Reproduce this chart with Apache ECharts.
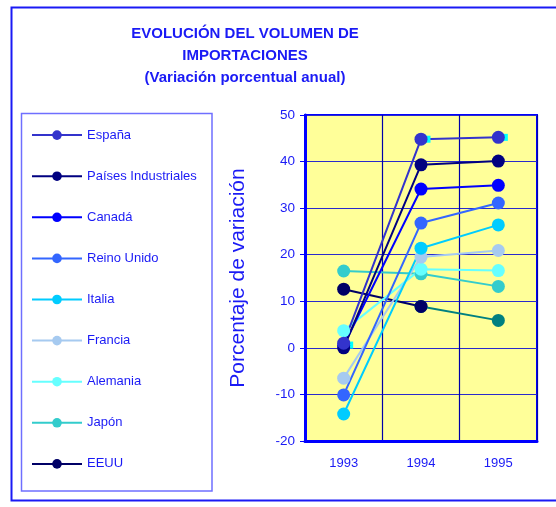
<!DOCTYPE html>
<html>
<head>
<meta charset="utf-8">
<script src="https://cdn.jsdelivr.net/npm/echarts@6/dist/echarts.min.js"></script>
<style>
  html, body { margin: 0; padding: 0; background: #fff; }
  #chart { width: 556px; height: 507px; }
</style>
</head>
<body>
<div id="chart"></div>
<script>
const years = ["1993", "1994", "1995"];
const yTicks = { min: -20, max: 50, step: 10 };

const names = ["España", "Países Industriales", "Canadá", "Reino Unido", "Italia",
  "Francia", "Alemania", "Japón", "EEUU"];
const colors = ["#3333CC", "#000080", "#0000FF", "#3366FF", "#00CCFF",
  "#A6CAF0", "#66FFFF", "#33CCCC", "#000066"];

const espana = [1.0, 44.8, 45.2];
const paisesInd = [0.0, 39.3, 40.1];
const canada = [0.5, 34.1, 34.9];
const reinoUnido = [-10.1, 26.8, 31.1];
const italia = [-14.2, 21.4, 26.4];
const francia = [-6.5, 19.5, 20.9];
const alemania = [3.7, 16.9, 16.6];
const japon = [16.5, 15.9, 13.2];
const eeuu = [12.6, 8.9, null];
// tramo final de EEUU, en verde azulado
const eeuuTramo = [null, 8.9, 5.9];
// serie oculta de marcadores cuadrados
const cuadros = [0.6, 44.8, 45.2];

const values = [espana, paisesInd, canada, reinoUnido, italia, francia, alemania, japon, eeuu];

const blue = "#1A1AF5";
const font = "Liberation Sans, Arial, sans-serif";

const chart = echarts.init(document.getElementById("chart"));

function lineSeries(name, data, color) {
  return {
    name,
    type: "line",
    data,
    symbol: "circle",
    symbolSize: 13,
    showAllSymbol: true,
    connectNulls: false,
    itemStyle: { color },
    lineStyle: { color, width: 2 },
    emphasis: { disabled: true },
    animation: false
  };
}

const series = [
  {
    name: "cuadros",
    type: "line",
    data: cuadros,
    symbol: "rect",
    symbolSize: 7,
    symbolOffset: [6, 0],
    itemStyle: { color: "#00FFFF" },
    lineStyle: { width: 0 },
    animation: false
  },
  lineSeries("tramo", eeuuTramo, "#008080")
];
// orden inverso para que España quede encima
for (let i = names.length - 1; i >= 0; i--) {
  series.push(lineSeries(names[i], values[i], colors[i]));
}

chart.setOption({
  backgroundColor: "#fff",
  animation: false,
  title: {
    text: "EVOLUCIÓN DEL VOLUMEN DE\nIMPORTACIONES\n(Variación porcentual anual)",
    left: 240,
    top: 17.5,
    textAlign: "center",
    textStyle: {
      color: blue,
      fontFamily: font,
      fontSize: 15,
      fontWeight: "bold",
      lineHeight: 22
    }
  },
  graphic: [
    {
      type: "rect",
      shape: { x: 11.5, y: 7.5, width: 560, height: 493 },
      style: { fill: null, stroke: blue, lineWidth: 2 },
      silent: true
    },
    {
      type: "rect",
      shape: { x: 21.5, y: 113.5, width: 190.5, height: 377.5 },
      style: { fill: null, stroke: "#6F6FFF", lineWidth: 1.5 },
      silent: true
    }
  ],
  legend: {
    data: names,
    orient: "vertical",
    left: 26,
    top: 123.6,
    itemWidth: 50,
    itemHeight: 12,
    itemGap: 28.1,
    textStyle: {
      color: blue,
      fontFamily: font,
      fontSize: 13
    },
    selectedMode: false
  },
  grid: {
    left: 305,
    right: 19,
    top: 115,
    bottom: 66,
    show: true,
    backgroundColor: "#FFFF99",
    borderColor: "#0000FF",
    borderWidth: 2
  },
  xAxis: {
    type: "category",
    data: years,
    boundaryGap: true,
    axisLine: { onZero: false, lineStyle: { color: "#0000FF", width: 3 } },
    axisTick: { show: false },
    axisLabel: {
      color: blue,
      fontFamily: font,
      fontSize: 13,
      margin: 16
    },
    splitLine: { show: true, lineStyle: { color: "#0000AA", width: 1.2 } }
  },
  yAxis: {
    type: "value",
    min: yTicks.min,
    max: yTicks.max,
    interval: yTicks.step,
    name: "Porcentaje de variación",
    nameLocation: "middle",
    nameRotate: 90,
    nameGap: 56,
    nameTextStyle: {
      color: blue,
      fontFamily: font,
      fontSize: 21
    },
    axisLine: { show: true, lineStyle: { color: "#0000FF", width: 3 } },
    axisTick: { show: true, length: 5, lineStyle: { color: "#0000FF", width: 1 } },
    axisLabel: {
      color: blue,
      fontFamily: font,
      fontSize: 13.5,
      margin: 10
    },
    splitLine: { show: true, lineStyle: { color: "#2A2ACC", width: 1.2 } }
  },
  series
});
</script>
</body>
</html>
